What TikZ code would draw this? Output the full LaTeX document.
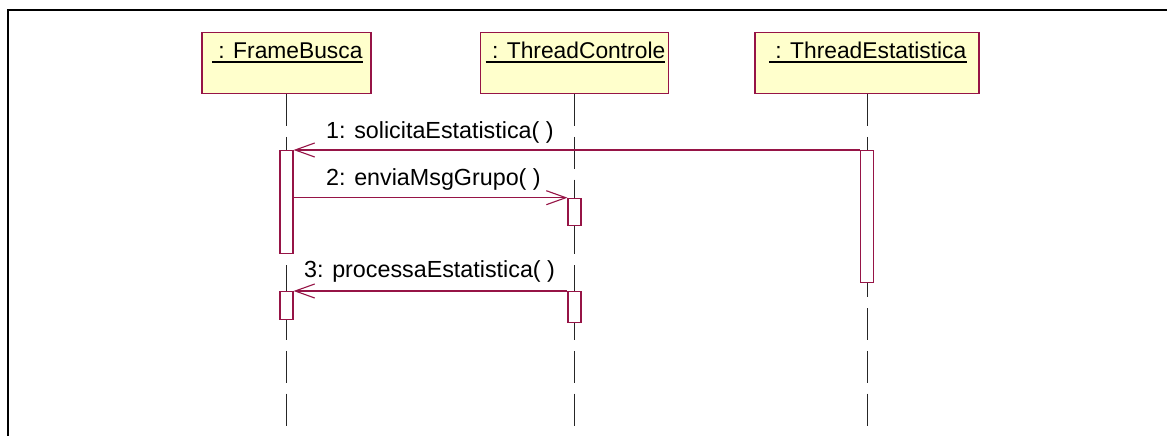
\documentclass[tikz,border=0pt]{standalone}
\usepackage{fontspec}
\setmainfont{Liberation Sans}
\usetikzlibrary{arrows.meta}
\definecolor{umlred}{RGB}{150,20,70}
\definecolor{objfill}{RGB}{255,255,204}
\tikzset{
  lbl/.style={font=\fontsize{23.3}{28}\selectfont, inner sep=0pt, text=black},
  title/.style={font=\fontsize{22.8}{27}\selectfont, inner sep=0pt, text=black},
  objbox/.style={draw=umlred, fill=objfill, line width=1.1pt, inner sep=0pt},
  actbar/.style={draw=umlred, fill=white, line width=1.1pt, inner sep=0pt, minimum width=13pt},
  lifeline/.style={draw=black!85, line width=0.9pt, dash pattern=on 32pt off 10.8pt},
  uline/.style={draw=black, line width=2pt},
  msg/.style={draw=umlred, line width=1.1pt, -{Straight Barb[length=19.5pt, width=14pt, line width=1.1pt]}},
}
\begin{document}
\begin{tikzpicture}[x=1pt, y=-1pt]
\useasboundingbox (0,0) rectangle (1167,436);
\fill[white] (0,0) rectangle (1167,436);

% outer frame
\coordinate (frameBL) at (8,437);
\coordinate (frameTL) at (8,10.5);
\coordinate (frameTR) at (1168,10.5);
\draw[line width=2pt] (frameBL) -- (frameTL) -- (frameTR);

% object boxes
\node[objbox, minimum width=169pt, minimum height=61pt] (fb) at (286.5,63) {};
\node[objbox, minimum width=188pt, minimum height=61pt] (tc) at (574.5,63) {};
\node[objbox, minimum width=224pt, minimum height=61pt] (te) at (867,63) {};

% object names (underlined)
\node[title, anchor=base] (fbT) at (287.3,59) {\ : FrameBusca};
\node[title, anchor=base] (tcT) at (575.5,59) {\ : ThreadControle};
\node[title, anchor=base] (teT) at (867.7,59) {\ : ThreadEstatistica};
\foreach \t in {fbT,tcT,teT}
  \draw[uline] ([yshift=-3.5pt]\t.base west) -- ([yshift=-3.5pt]\t.base east);

% lifelines
\coordinate (fbEnd) at (286.5,436);
\coordinate (tcEnd) at (574.5,436);
\coordinate (teEnd) at (867,436);
\draw[lifeline] (fb.south) -- (fbEnd);
\draw[lifeline] (tc.south) -- (tcEnd);
\draw[lifeline] (te.south) -- (teEnd);

% activation bars
\node[actbar, anchor=north, minimum height=103pt] (fbA1) at (286.5,150) {};
\node[actbar, anchor=north, minimum height=27.5pt] (fbA2) at (286.5,291) {};
\node[actbar, anchor=north, minimum height=27pt] (tcA1) at (574.5,197.7) {};
\node[actbar, anchor=north, minimum height=31pt] (tcA2) at (574.5,291) {};
\node[actbar, anchor=north, minimum height=132pt] (teA1) at (867,150) {};

% messages
\draw[msg] (teA1.north west) -- (fbA1.north east);
\draw[msg] (fbA1.east |- tcA1.north west) -- (tcA1.north west);
\draw[msg] (tcA2.north west) -- (fbA2.north east);

% message labels
\node[lbl, anchor=base west] (m1) at (326,138) {1: solicitaEstatistica( )};
\node[lbl, anchor=base west] (m2) at (326,185) {2: enviaMsgGrupo( )};
\node[lbl, anchor=base west] (m3) at (304,277) {3: processaEstatistica( )};
\end{tikzpicture}
\end{document}
